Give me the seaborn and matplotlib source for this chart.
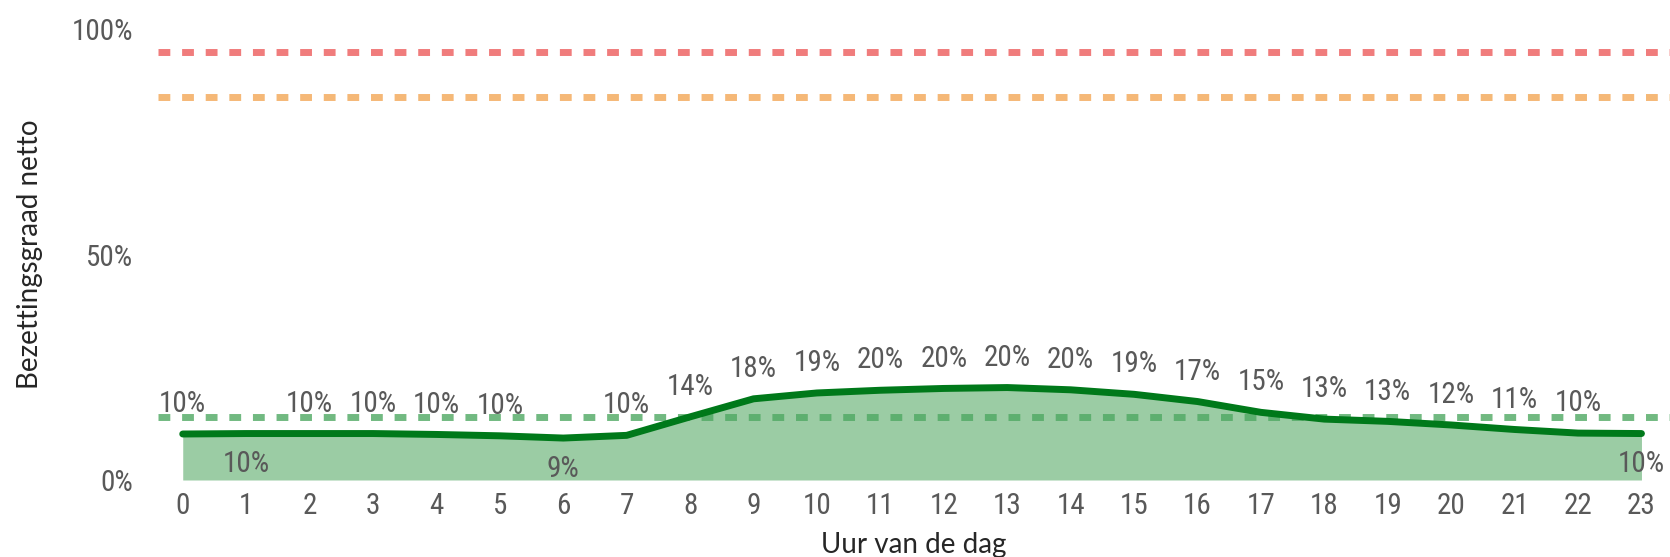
import matplotlib
matplotlib.use("Agg")
import matplotlib.pyplot as plt
from matplotlib import font_manager
import seaborn as sns
import pandas as pd

# hourly occupancy (net)
hours = list(range(24))
occupancy = [10.2, 10.3, 10.3, 10.3, 10.1, 9.8, 9.3, 9.9, 14.0, 18.0, 19.3, 19.9,
             20.3, 20.5, 20.0, 19.0, 17.4, 15.0, 13.5, 13.0, 12.2, 11.2, 10.4, 10.3]
value_labels = ["10%", "10%", "10%", "10%", "10%", "10%", "9%", "10%", "14%", "18%",
                "19%", "20%", "20%", "20%", "20%", "19%", "17%", "15%", "13%", "13%",
                "12%", "11%", "10%", "10%"]
labels_below = [1, 6, 23]

# reference lines
threshold_values = [95, 85, 14]
threshold_colors = ["#f07c7c", "#f5b877", "#4ea862"]

y_ticks = [0, 50, 100]
y_tick_labels = ["0%", "50%", "100%"]


def condensed_font():
    # look for a narrow/condensed regular face among installed fonts
    wanted = ["Roboto Condensed", "Noto Sans Condensed", "Open Sans Condensed",
              "DejaVu Sans Condensed", "Liberation Sans Narrow"]
    fonts = font_manager.fontManager.ttflist
    for w in wanted:
        key = w.replace(" ", "").lower()
        for f in fonts:
            fn = f.fname.replace(" ", "").replace("-", "").lower()
            if key in fn and f.weight in (400, "normal", "regular") and f.style == "normal":
                return font_manager.FontProperties(fname=f.fname)
    for f in fonts:
        if f.stretch in ("condensed", "semi-condensed") and f.style == "normal" \
                and f.weight in (400, "normal", "regular"):
            return font_manager.FontProperties(fname=f.fname)
    return font_manager.FontProperties(family="Lato")


df = pd.DataFrame({"uur": hours, "bezetting": occupancy})

sns.set_style("white")
plt.rcParams["font.family"] = ["Lato", "DejaVu Sans"]

tick_font = condensed_font()
tick_font.set_size(21)

fig = plt.figure(figsize=(16.7, 5.57), dpi=100)
ax = fig.add_axes([158 / 1670, 1 - 480 / 557, 1 - 158 / 1670, 451 / 557])

# filled area under the curve
ax.fill_between(df["uur"], 0, df["bezetting"], color="#9bcca4", lw=0, zorder=1)

# dashed threshold lines
for val, col in zip(threshold_values, threshold_colors):
    alpha = 0.8 if val == 14 else 1.0
    ax.axhline(val, color=col, lw=5, dashes=(1.7, 1.7), alpha=alpha, zorder=2)

sns.lineplot(data=df, x="uur", y="bezetting", ax=ax, color="#00791a", lw=5,
             solid_capstyle="round", zorder=3)

for h, v, lab in zip(hours, occupancy, value_labels):
    off = -22 if h in labels_below else 21.5
    ax.annotate(lab, (h, v), xytext=(0, off), textcoords="offset points",
                ha="center", va="center", color="#595959", fontproperties=tick_font)

ax.set_xlim(-0.39, 23.45)
ax.set_ylim(0, 100)
ax.set_xticks(hours)
ax.set_xticklabels([str(h) for h in hours], fontproperties=tick_font)
ax.set_yticks(y_ticks)
ax.set_yticklabels(y_tick_labels, fontproperties=tick_font)
ax.tick_params(axis="x", length=0, pad=9, labelcolor="#595959")
ax.tick_params(axis="y", length=0, pad=18, labelcolor="#595959")
ax.set_xlabel("Uur van de dag", fontsize=20, color="#262626", va="top")
ax.set_ylabel("Bezettingsgraad netto", fontsize=20, color="#262626", va="center")
ax.xaxis.set_label_coords(0.5, (480 - 532) / 451)
ax.yaxis.set_label_coords((30 - 158) / 1512, 0.5)
sns.despine(ax=ax, left=True, bottom=True)
ax.grid(False)

fig.savefig("out.png", dpi=100)
